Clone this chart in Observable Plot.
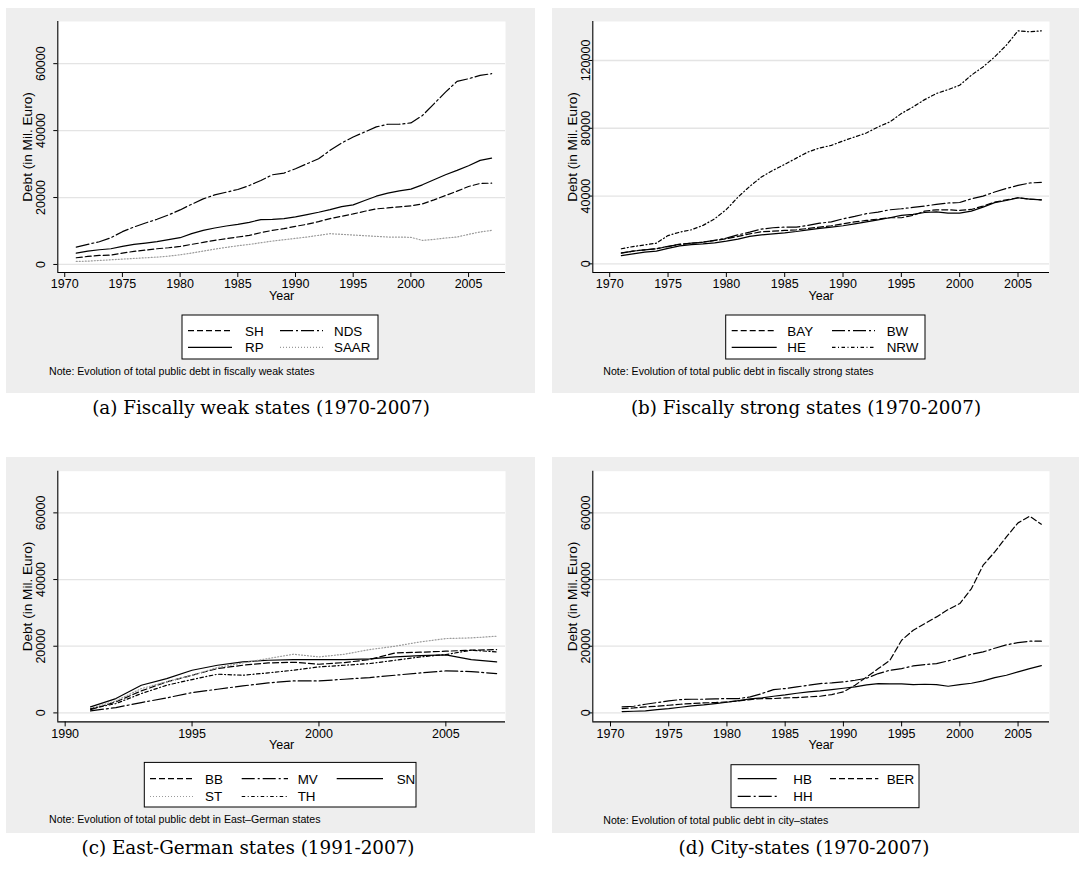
<!DOCTYPE html>
<html>
<head>
<meta charset="utf-8">
<script src="https://cdn.jsdelivr.net/npm/d3@7"></script>
<script src="https://cdn.jsdelivr.net/npm/@observablehq/plot@0.6"></script>
<style>
  html, body { margin: 0; padding: 0; background: #ffffff; }
  body { position: relative; width: 1081px; height: 883px; overflow: hidden; }
  .panel { position: absolute; }
  .caption {
    position: absolute; white-space: nowrap; color: #000;
    font-family: "DejaVu Serif", "Liberation Serif", serif; font-size: 18px;
    transform: translate(-50%, -50%);
  }
</style>
</head>
<body>
<script>
// Years covered by the series
const yearsWest = d3.range(1971, 2008);   // 1971–2007
const yearsEast = d3.range(1991, 2008);   // 1991–2007

// Total public debt, in million euro
// (a) fiscally weak states
const SH   = [2000,2400,2700,2800,3400,3900,4300,4700,5000,5400,6000,6600,7200,7700,8200,8700,9500,10200,10700,11400,12000,12800,13700,14400,15100,15900,16600,16900,17200,17500,18100,19300,20600,21900,23300,24200,24300];
const NDS  = [5200,6000,6800,8000,9800,11200,12400,13500,14800,16300,18000,19600,20800,21600,22400,23600,25100,26800,27300,28600,30100,31600,34100,36300,38100,39600,41100,41900,41900,42300,44500,48000,51500,54700,55500,56500,57000];
const RP   = [3400,4000,4400,4700,5400,6000,6400,6800,7400,8000,9200,10200,10900,11500,12000,12600,13400,13500,13700,14200,14900,15600,16400,17300,17800,19100,20400,21300,22000,22500,23800,25300,26800,28100,29500,31100,31800];
const SAAR = [900,1000,1200,1400,1600,1800,2000,2200,2500,2900,3400,4000,4600,5100,5600,6000,6500,7000,7400,7800,8200,8700,9200,9000,8800,8600,8400,8200,8200,8100,7200,7500,7900,8200,9000,9700,10200];

// (b) fiscally strong states
const BAY = [6500,7500,8300,8900,10200,11600,12200,12800,13800,14800,16200,17700,18900,19300,19700,20100,20900,21700,22500,23600,24800,25600,26400,27200,27200,28600,31100,31900,31900,31500,32100,34100,36400,37800,39000,38200,37800];
const BW  = [6300,7500,8300,8900,10400,11400,12200,12800,13800,15200,17100,18700,20500,21300,21700,21700,22700,24000,24800,26600,28000,29600,30500,31900,32500,33300,34100,35100,35900,36200,38400,40000,42400,44500,46300,47700,48100];
const HE  = [4900,5900,6900,7500,9100,10600,11400,11800,12400,13400,14600,16200,17100,17700,18300,19100,20100,20900,21700,22500,23600,24800,26000,27200,28600,29200,30300,30700,29900,29900,31100,33500,36100,37400,39000,38200,37800];
const NRW = [8900,10200,11200,12200,16700,18700,20100,22700,26600,32100,39400,45700,51200,55200,58700,62400,66000,68400,69900,72500,74900,77200,80800,83700,88700,92600,96900,100500,102800,105400,111300,116200,122100,129000,137500,136900,137500];

// (c) East-German states
const BB = [1000,3300,6600,9300,11300,13300,14300,15000,15200,14600,15100,16000,18000,18200,18500,18800,19000];
const MV = [600,1600,3100,4500,6100,7100,8100,9000,9600,9600,10100,10600,11300,12000,12600,12400,11800];
const SN = [1800,4300,8300,10300,12800,14300,15300,15800,16000,16000,16000,16200,16800,17200,17400,16000,15300];
const ST = [1300,3600,7300,9300,11300,13600,15000,16300,17600,16800,17600,19000,20000,21300,22300,22500,23000];
const TH = [1200,2800,5800,8300,10000,11600,11300,12000,12800,13800,14300,14800,15800,16800,17500,18800,18300];

// (d) city-states
const HB  = [400,500,600,1000,1300,1700,2100,2400,2800,3200,3700,4200,4500,5000,5400,5900,6300,6600,7000,7400,7800,8400,8800,8700,8700,8500,8600,8500,8000,8500,8900,9600,10600,11300,12300,13300,14200];
const BER = [1300,1500,1800,2000,2300,2600,2800,3000,3100,3300,3600,4000,4300,4300,4500,4600,4800,5000,5500,6300,8300,10800,13300,15800,21800,24800,26800,28800,31000,32800,37300,44300,48300,52800,57000,59000,56600];
const HH  = [1800,2000,2600,3100,3600,4000,4100,4100,4200,4300,4300,4800,5800,7000,7300,7800,8300,8800,9000,9300,9800,10400,11800,12800,13300,14100,14500,14800,15600,16600,17600,18300,19400,20400,21100,21500,21500];

// Tick labels
const xTicksWest = [1970,1975,1980,1985,1990,1995,2000,2005];
const xTicksEast = [1990,1995,2000,2005];
const yTicks60   = [0,20000,40000,60000];
const yTicks120  = [0,40000,80000,120000];

// Captions and notes
const captions = {
  a: "(a) Fiscally weak states (1970-2007)",
  b: "(b) Fiscally strong states (1970-2007)",
  c: "(c) East-German states (1991-2007)",
  d: "(d) City-states (1970-2007)"
};
const notes = {
  a: "Note: Evolution of total public debt in fiscally weak states",
  b: "Note: Evolution of total public debt in fiscally strong states",
  c: "Note: Evolution of total public debt in East\u2013German states",
  d: "Note: Evolution of total public debt in city\u2013states"
};

// Line patterns (monochrome scheme)
const LINE = {
  dash:      {stroke: "#000", dash: "6,3"},
  longdash:  {stroke: "#000", dash: "13,3,2,3"},
  solid:     {stroke: "#000", dash: null},
  dot:       {stroke: "#9a9a9a", dash: "1,2"},
  shortdash: {stroke: "#000", dash: "3.5,2.5,1,2.5"}
};

const SANS = "'Liberation Sans', Arial, Helvetica, sans-serif";
const BG = "#eeeeee";
const FS_TICK = 12.5;     // axis tick labels and "Year"
const FS_TITLE = 13.6;    // y-axis title
const FS_LEGEND = 13.4;   // legend labels
const FS_NOTE = 10.6;     // note line

function panel(cfg) {
  const rowsOf = (years, vals) => years.map((year, i) => ({year, value: vals[i]}));
  const fmt = d => String(d);

  const marks = [
    Plot.frame({fill: "white", stroke: "none"}),
    Plot.gridY(cfg.yTicks, {stroke: "#e4e4e4", strokeOpacity: 1, strokeWidth: 1.3}),
    ...cfg.series.map(s => Plot.line(rowsOf(cfg.years, s.values), {
      x: "year", y: "value",
      stroke: LINE[s.style].stroke,
      strokeDasharray: LINE[s.style].dash,
      strokeWidth: 1.2,
      curve: "linear"
    })),
    Plot.ruleY([cfg.yDomain[0]], {stroke: "#000", strokeWidth: 1.1}),
    Plot.ruleX([cfg.xDomain[0]], {stroke: "#000", strokeWidth: 1.1}),
    Plot.axisX(cfg.xTicks, {tickSize: 5, tickPadding: 2, fontSize: FS_TICK, tickFormat: fmt, label: null}),
    Plot.axisY(cfg.yTicks, {tickSize: 4, tickFormat: () => "", label: null}),
    Plot.text(cfg.yTicks, {y: d => d, text: fmt, frameAnchor: "left", dx: cfg.yLabelDx,
      rotate: -90, textAnchor: "middle", lineAnchor: "middle", fontSize: FS_TICK}),
    Plot.text(["Year"], {frameAnchor: "bottom", dy: 27.5, textAnchor: "middle", fontSize: FS_TICK}),
    Plot.text(["Debt (in Mil. Euro)"], {frameAnchor: "left", dx: cfg.yTitleDx, rotate: -90,
      textAnchor: "middle", lineAnchor: "middle", fontSize: FS_TITLE})
  ];

  const chart = Plot.plot({
    width: cfg.width,
    height: cfg.height,
    marginLeft: cfg.margin[3],
    marginRight: cfg.margin[1],
    marginTop: cfg.margin[0],
    marginBottom: cfg.margin[2],
    x: {type: "linear", domain: cfg.xDomain},
    y: {type: "linear", domain: cfg.yDomain},
    style: {background: BG, fontFamily: SANS, fontSize: FS_TICK + "px", color: "#000", overflow: "visible"},
    marks
  });

  // Legend box with line keys, then the note line
  const svg = d3.select(chart);
  const lg = cfg.legend;
  const g = svg.append("g")
    .attr("font-family", SANS).attr("font-size", FS_LEGEND).attr("text-anchor", "start");
  g.append("rect")
    .attr("x", lg.x).attr("y", lg.y).attr("width", lg.w).attr("height", lg.h)
    .attr("fill", "white").attr("stroke", "#000").attr("stroke-width", 1);
  lg.items.forEach(it => {
    const s = cfg.series.find(d => d.name === it.name);
    const st = LINE[s.style];
    const y = lg.rows[it.row];
    const col = lg.cols[it.col];
    g.append("line")
      .attr("x1", col.x1).attr("x2", col.x2).attr("y1", y).attr("y2", y)
      .attr("stroke", st.stroke).attr("stroke-width", 1.2)
      .attr("stroke-dasharray", st.dash);
    g.append("text")
      .attr("x", col.tx).attr("y", y).attr("dy", "0.36em")
      .attr("fill", "#000").text(s.name);
  });
  svg.append("text")
    .attr("x", cfg.noteX).attr("y", cfg.noteY).attr("dy", "0.36em")
    .attr("text-anchor", "start")
    .attr("font-family", SANS).attr("font-size", FS_NOTE).attr("fill", "#000")
    .text(cfg.note);

  const wrap = document.createElement("div");
  wrap.className = "panel";
  wrap.style.left = cfg.left + "px";
  wrap.style.top = cfg.top + "px";
  wrap.appendChild(chart);
  document.body.appendChild(wrap);

  const cap = document.createElement("div");
  cap.className = "caption";
  cap.style.left = cfg.capX + "px";
  cap.style.top = cfg.capY + "px";
  cap.textContent = cfg.caption;
  document.body.appendChild(cap);
  return cap;
}

// (a) Fiscally weak states
const capA = panel({
  left: 6, top: 8, width: 529, height: 385, margin: [13, 30, 121, 51.3],
  years: yearsWest, xDomain: [1969.4, 2008.2], yDomain: [-2400, 72600],
  xTicks: xTicksWest, yTicks: yTicks60, yLabelDx: -16.5, yTitleDx: -30.6,
  series: [
    {name: "SH", values: SH, style: "dash"},
    {name: "NDS", values: NDS, style: "longdash"},
    {name: "RP", values: RP, style: "solid"},
    {name: "SAAR", values: SAAR, style: "dot"}
  ],
  legend: {x: 176, y: 307, w: 196, h: 44, rows: [322.7, 339.3],
    cols: [{x1: 182, x2: 226, tx: 239}, {x1: 274, x2: 317, tx: 328}],
    items: [{name: "SH", row: 0, col: 0}, {name: "NDS", row: 0, col: 1},
            {name: "RP", row: 1, col: 0}, {name: "SAAR", row: 1, col: 1}]},
  note: notes.a, noteX: 43, noteY: 362.7,
  caption: captions.a, capX: 261, capY: 406.7
});

// (b) Fiscally strong states
panel({
  left: 552, top: 8, width: 527, height: 385, margin: [13, 30, 121, 40.3],
  years: yearsWest, xDomain: [1968.55, 2007.7], yDomain: [-5100, 143000],
  xTicks: xTicksWest, yTicks: yTicks120, yLabelDx: -6.8, yTitleDx: -20.6,
  series: [
    {name: "BAY", values: BAY, style: "dash"},
    {name: "BW", values: BW, style: "longdash"},
    {name: "HE", values: HE, style: "solid"},
    {name: "NRW", values: NRW, style: "shortdash"}
  ],
  legend: {x: 173.7, y: 307, w: 199.3, h: 44, rows: [322.7, 339.3],
    cols: [{x1: 179.7, x2: 224.7, tx: 235.3}, {x1: 280, x2: 323, tx: 334.7}],
    items: [{name: "BAY", row: 0, col: 0}, {name: "BW", row: 0, col: 1},
            {name: "HE", row: 1, col: 0}, {name: "NRW", row: 1, col: 1}]},
  note: notes.b, noteX: 51.3, noteY: 362.7,
  caption: captions.b, capX: 806, capY: 406.7
});

// (c) East-German states
panel({
  left: 6, top: 457.3, width: 529, height: 376, margin: [13.7, 30, 111.6, 51.3],
  years: yearsEast, xDomain: [1989.71, 2007.35], yDomain: [-2700, 72500],
  xTicks: xTicksEast, yTicks: yTicks60, yLabelDx: -16.5, yTitleDx: -30.6,
  series: [
    {name: "BB", values: BB, style: "dash"},
    {name: "MV", values: MV, style: "longdash"},
    {name: "SN", values: SN, style: "solid"},
    {name: "ST", values: ST, style: "dot"},
    {name: "TH", values: TH, style: "shortdash"}
  ],
  legend: {x: 138.3, y: 305.4, w: 271.7, h: 44.6, rows: [321.7, 339.5],
    cols: [{x1: 144, x2: 188, tx: 199}, {x1: 235.7, x2: 282, tx: 291.7}, {x1: 330.7, x2: 377, tx: 390.7}],
    items: [{name: "BB", row: 0, col: 0}, {name: "MV", row: 0, col: 1}, {name: "SN", row: 0, col: 2},
            {name: "ST", row: 1, col: 0}, {name: "TH", row: 1, col: 1}]},
  note: notes.c, noteX: 43, noteY: 362.5,
  caption: captions.c, capX: 248, capY: 846.5
});

// (d) City-states
panel({
  left: 552, top: 457.3, width: 527, height: 376, margin: [13.7, 30, 111.6, 40.3],
  years: yearsWest, xDomain: [1968.48, 2007.7], yDomain: [-2700, 72500],
  xTicks: xTicksWest, yTicks: yTicks60, yLabelDx: -7.3, yTitleDx: -20.6,
  series: [
    {name: "HB", values: HB, style: "solid"},
    {name: "BER", values: BER, style: "dash"},
    {name: "HH", values: HH, style: "longdash"}
  ],
  legend: {x: 179, y: 307.7, w: 188, h: 43, rows: [321.7, 339.4],
    cols: [{x1: 185.7, x2: 224.7, tx: 241.3}, {x1: 278, x2: 326.3, tx: 334.7}],
    items: [{name: "HB", row: 0, col: 0}, {name: "BER", row: 0, col: 1},
            {name: "HH", row: 1, col: 0}]},
  note: notes.d, noteX: 51.3, noteY: 363,
  caption: captions.d, capX: 804, capY: 846.5
});

// Size the serif captions so that caption (a) spans 338px
const capWidth = capA.getBoundingClientRect().width;
if (capWidth > 0) {
  const size = 18 * 338 / capWidth;
  document.querySelectorAll(".caption").forEach(el => { el.style.fontSize = size + "px"; });
}
</script>
</body>
</html>
